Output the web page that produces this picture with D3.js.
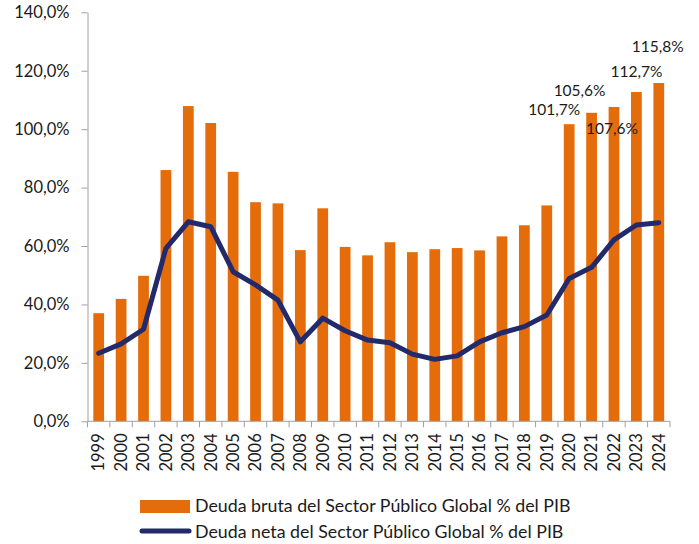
<!DOCTYPE html>
<html>
<head>
<meta charset="utf-8">
<script src="https://cdn.jsdelivr.net/npm/d3@7"></script>
<style>
  body { margin: 0; background: #fff; }
  text { font-family: Lato, "Open Sans", sans-serif; fill: #1a1a1a; }
</style>
</head>
<body>
<div id="chart"></div>
<script>
// data
var years = ["1999","2000","2001","2002","2003","2004","2005","2006","2007","2008","2009","2010","2011",
             "2012","2013","2014","2015","2016","2017","2018","2019","2020","2021","2022","2023","2024"];
var bruta = [37.0, 41.9, 49.8, 86.0, 107.9, 102.1, 85.4, 75.0, 74.6, 58.6, 72.9, 59.7, 56.8,
             61.3, 57.9, 58.9, 59.3, 58.5, 63.3, 67.1, 73.9, 101.7, 105.6, 107.6, 112.7, 115.8];
var neta = [23.3, 26.5, 31.5, 59.2, 68.3, 66.6, 51.2, 46.7, 41.5, 27.2, 35.3, 31.0, 27.8,
            26.9, 23.0, 21.2, 22.4, 27.2, 30.3, 32.4, 36.4, 48.9, 52.7, 62.1, 67.2, 68.0];
var yTicks = [0, 20, 40, 60, 80, 100, 120, 140];
var labelYears = ["2020", "2021", "2022", "2023", "2024"];
var seriesNames = ["Deuda bruta del Sector Público Global % del PIB",
                   "Deuda neta del Sector Público Global % del PIB"];

// label offsets (pixels from bar top / centre)
var labelOffsets = { "2020": [-15, -15], "2021": [-12, -22], "2022": [-2, 22], "2023": [0, -20], "2024": [-1, -36] };

var W = 699, H = 544;
var ORANGE = "#e46c0a";
var NAVY = "#232a6b";
var AXIS = "#a0a0a0";

var fmt = function(v){ return d3.format(".1f")(v).replace(".", ",") + "%"; };

var svg = d3.select("#chart").append("svg")
  .attr("width", W)
  .attr("height", H);

var x = d3.scaleBand().domain(years).range([87.5, 670]).paddingInner(0.52).paddingOuter(0.26);
var y = d3.scaleLinear().domain([0, 140]).range([421.3, 12.3]);

// y axis
var yAxis = svg.append("g")
  .attr("transform", "translate(87.5,0)")
  .call(d3.axisLeft(y).tickValues(yTicks).tickSize(6).tickSizeOuter(0).tickPadding(12).tickFormat(fmt));
yAxis.selectAll("text").style("font-size", "16.5px").attr("fill", "#1a1a1a");
yAxis.select(".domain").attr("stroke", AXIS);
yAxis.selectAll(".tick line").attr("stroke", AXIS);

// bars
svg.append("g").selectAll("rect")
  .data(years)
  .join("rect")
  .attr("x", function(d){ return x(d); })
  .attr("y", function(d, i){ return y(bruta[i]); })
  .attr("width", x.bandwidth())
  .attr("height", function(d, i){ return y(0) - y(bruta[i]); })
  .attr("fill", ORANGE);

// x axis (ticks on band boundaries)
var xg = svg.append("g").attr("transform", "translate(0," + y(0) + ")");
xg.append("line")
  .attr("x1", 87.5).attr("x2", 670)
  .attr("stroke", AXIS);
var step = x.step();
var bounds = years.map(function(d){ return x(d) + x.bandwidth() / 2 - step / 2; });
bounds.push(670);
xg.selectAll(".xt")
  .data(bounds)
  .join("line")
  .attr("class", "xt")
  .attr("x1", function(d){ return d; })
  .attr("x2", function(d){ return d; })
  .attr("y1", 0).attr("y2", 6)
  .attr("stroke", AXIS);
xg.selectAll(".xl")
  .data(years)
  .join("text")
  .attr("class", "xl")
  .attr("transform", function(d){ return "translate(" + (x(d) + x.bandwidth() / 2) + ",12) rotate(-90)"; })
  .attr("text-anchor", "end")
  .attr("dy", "0.35em")
  .style("font-size", "16.5px")
  .text(function(d){ return d; });

// line
var line = d3.line()
  .x(function(d, i){ return x(years[i]) + x.bandwidth() / 2; })
  .y(function(d){ return y(d); });
svg.append("path")
  .datum(neta)
  .attr("d", line)
  .attr("fill", "none")
  .attr("stroke", NAVY)
  .attr("stroke-width", 5)
  .attr("stroke-linejoin", "round")
  .attr("stroke-linecap", "round");

// data labels
svg.append("g").selectAll("text")
  .data(labelYears)
  .join("text")
  .attr("x", function(d){ return x(d) + x.bandwidth() / 2 + labelOffsets[d][0]; })
  .attr("y", function(d){ return y(bruta[years.indexOf(d)]) + labelOffsets[d][1]; })
  .attr("text-anchor", "middle")
  .attr("dy", "0.35em")
  .style("font-size", "15.5px")
  .text(function(d){ return fmt(bruta[years.indexOf(d)]); });

// legend
var lg = svg.append("g");
lg.append("rect")
  .attr("x", 140).attr("y", 500)
  .attr("width", 50).attr("height", 13)
  .attr("fill", ORANGE);
lg.append("line")
  .attr("x1", 142).attr("x2", 189)
  .attr("y1", 531).attr("y2", 531)
  .attr("stroke", NAVY)
  .attr("stroke-width", 5)
  .attr("stroke-linecap", "round");
lg.selectAll("text")
  .data(seriesNames)
  .join("text")
  .attr("x", 195)
  .attr("y", function(d, i){ return 506 + i * 26; })
  .attr("dy", "0.35em")
  .style("font-size", "17.8px")
  .text(function(d){ return d; });
</script>
</body>
</html>
